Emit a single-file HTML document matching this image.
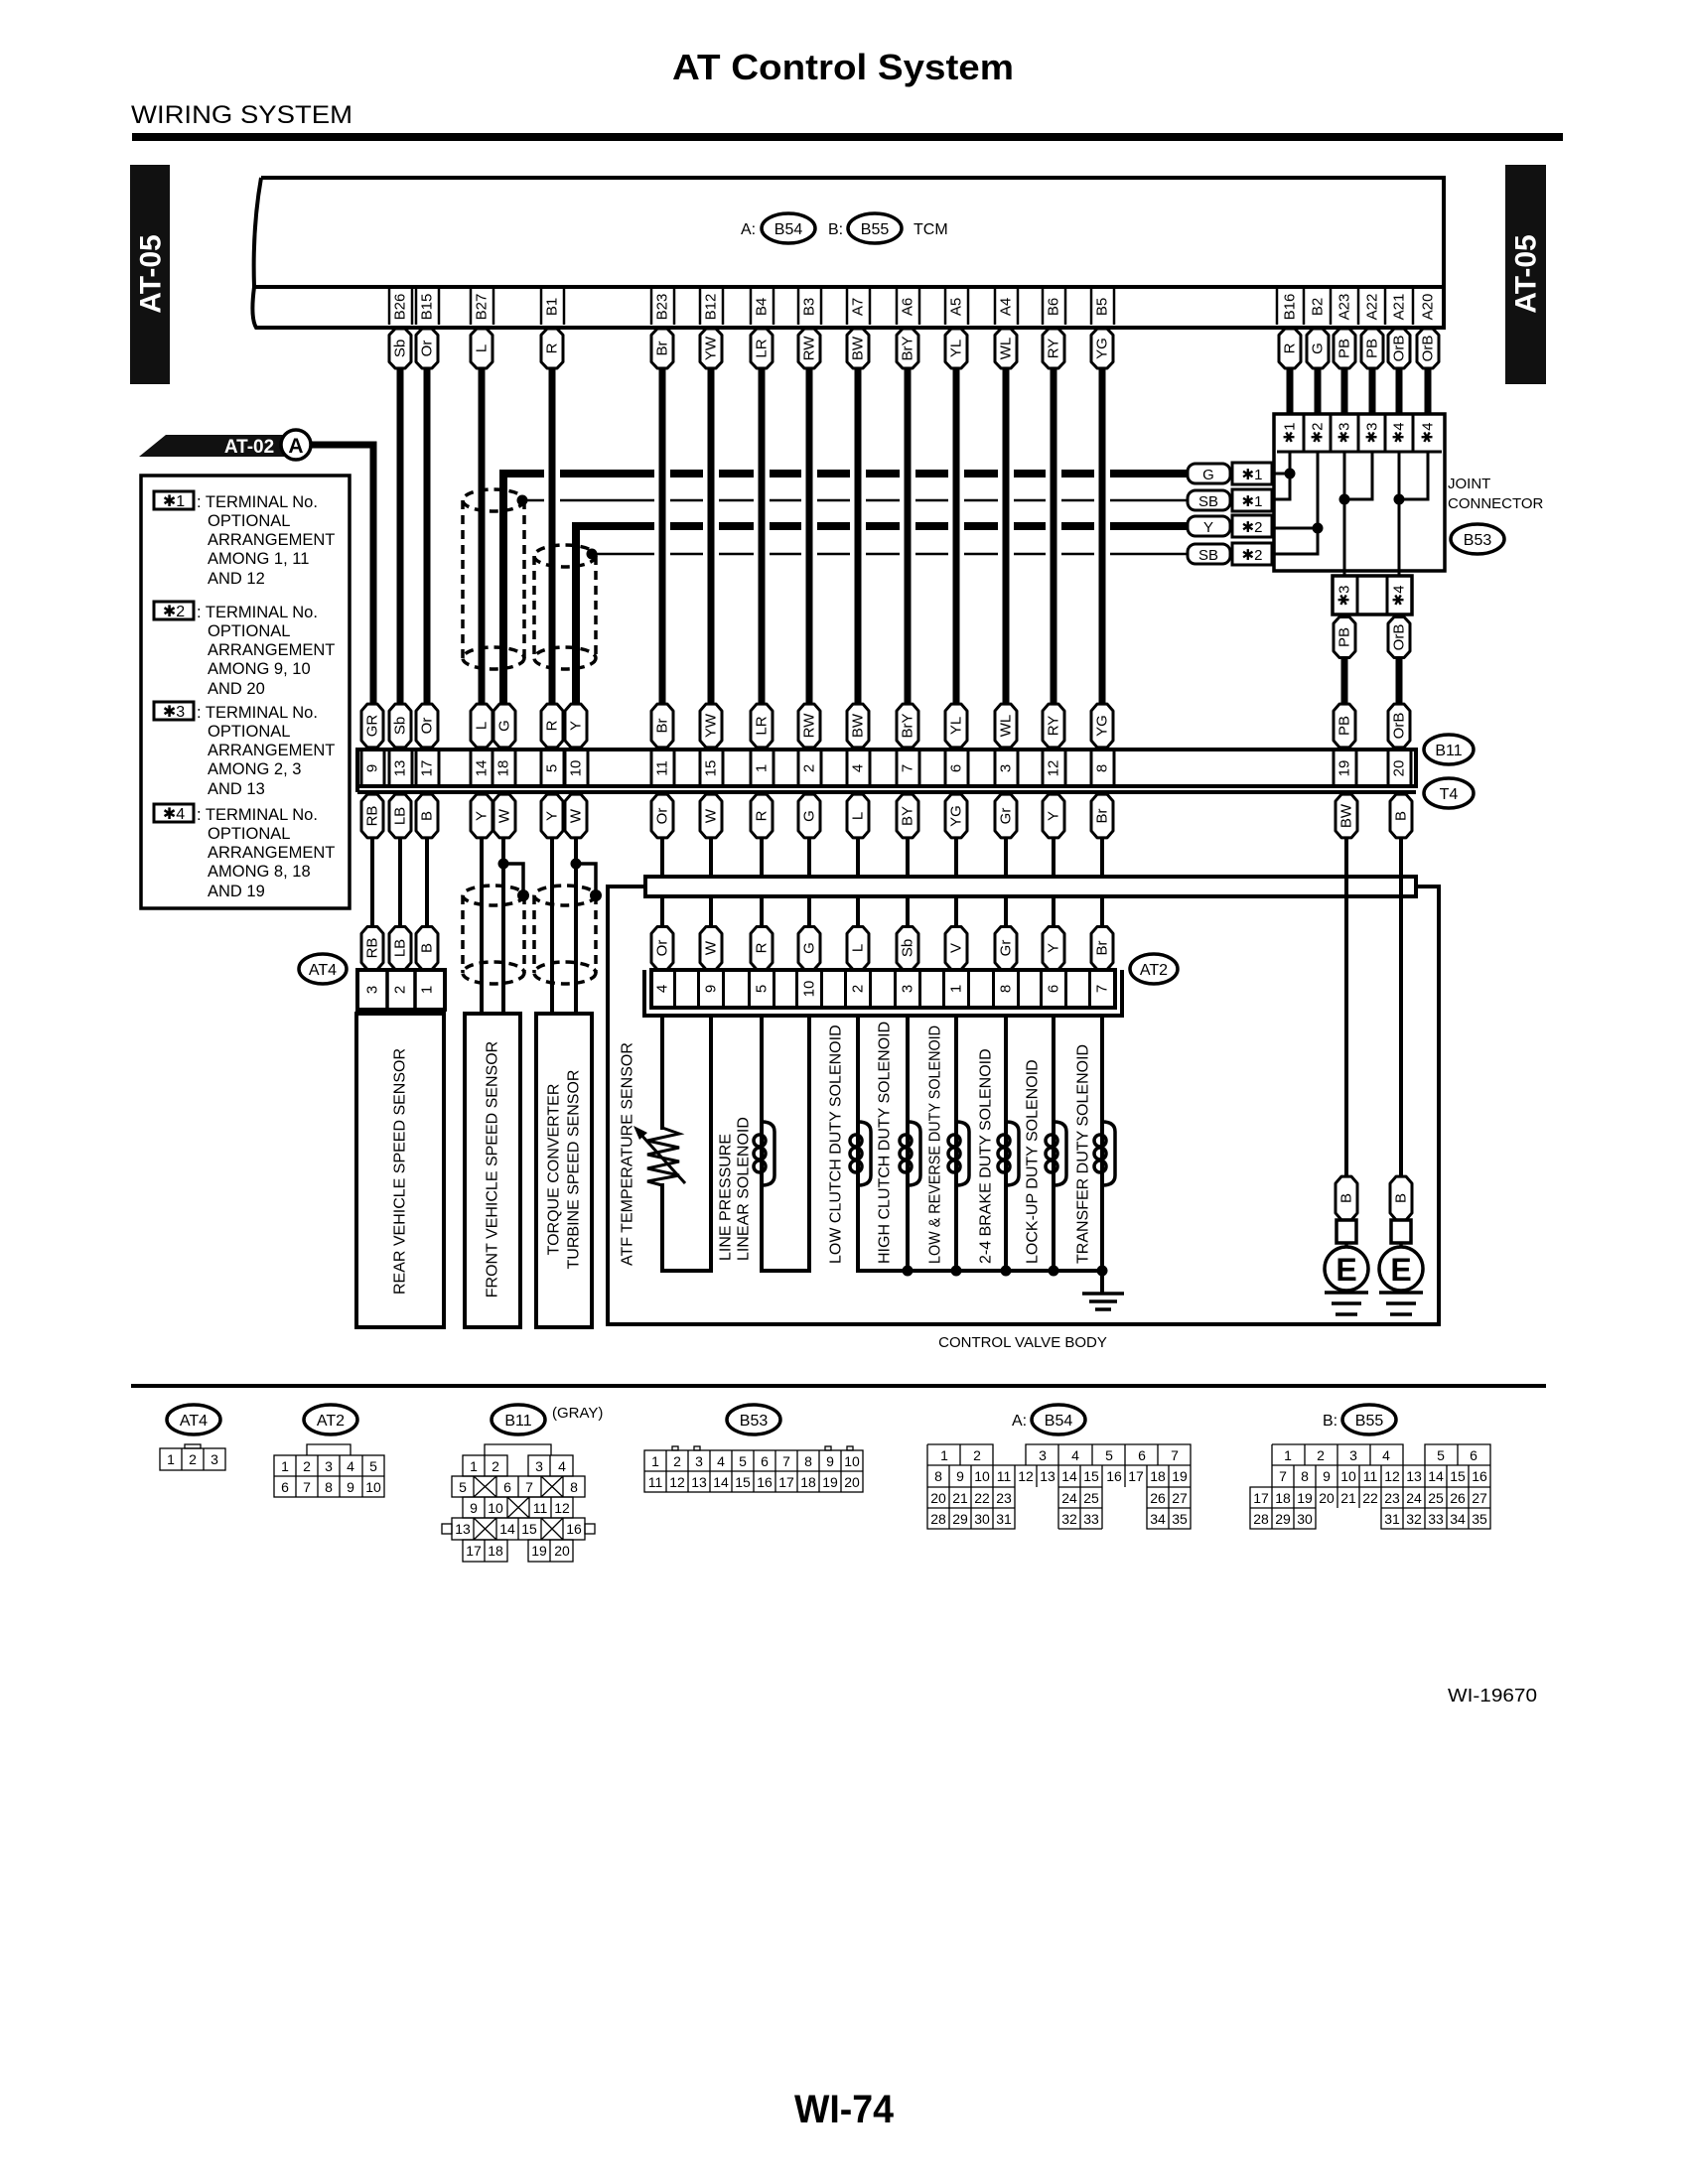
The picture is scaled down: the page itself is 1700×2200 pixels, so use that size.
<!DOCTYPE html>
<html><head><meta charset="utf-8">
<style>
html,body{margin:0;padding:0;background:#fff;}
svg{display:block;}
text{font-family:"Liberation Sans",sans-serif;fill:#000;}
.v{font-size:15px;text-anchor:middle;dominant-baseline:central;}
.n{font-size:14px;text-anchor:middle;dominant-baseline:central;}
.lg{font-size:16.5px;}
.s{fill:none;stroke:#000;}
</style></head>
<body>
<svg width="1700" height="2200" viewBox="0 0 1700 2200" xmlns="http://www.w3.org/2000/svg">
<defs>
<path id="pl" d="M-11,-13 L-5,-19 H5 L11,-13 V13 L5,19 H-5 L-11,13Z" fill="#fff" stroke="#000" stroke-width="3" stroke-linejoin="round" vector-effect="non-scaling-stroke"/>
</defs>
<rect width="1700" height="2200" fill="#fff"/>

<!-- Header -->
<text x="849" y="80" font-size="36" font-weight="bold" text-anchor="middle" textLength="344" lengthAdjust="spacingAndGlyphs">AT Control System</text>
<text x="132" y="124" font-size="25" textLength="223" lengthAdjust="spacingAndGlyphs">WIRING SYSTEM</text>
<rect x="133" y="134" width="1441" height="8" fill="#000"/>

<!-- AT-05 bars -->
<rect x="131" y="166" width="40" height="221" fill="#111"/>
<text transform="translate(152,276) rotate(-90)" font-size="30" font-weight="bold" style="fill:#fff" text-anchor="middle" dominant-baseline="central">AT-05</text>
<rect x="1516" y="166" width="41" height="221" fill="#111"/>
<text transform="translate(1537,276) rotate(-90)" font-size="30" font-weight="bold" style="fill:#fff" text-anchor="middle" dominant-baseline="central">AT-05</text>

<!-- TCM box -->
<path class="s" stroke-width="4" d="M263 179 H1454 V330 H258 Q252 320 256 289 H1454 M263 179 Q254 230 256 289"/>
<text x="746" y="236" font-size="16">A:</text>
<ellipse cx="794" cy="230" rx="27" ry="15" class="s" stroke-width="3.5"/>
<text x="794" y="236" font-size="16" text-anchor="middle">B54</text>
<text x="834" y="236" font-size="16">B:</text>
<ellipse cx="881" cy="230" rx="27" ry="15" class="s" stroke-width="3.5"/>
<text x="881" y="236" font-size="16" text-anchor="middle">B55</text>
<text x="920" y="236" font-size="16">TCM</text>

<!-- Terminal cell borders -->
<path class="s" stroke-width="2.5" d="M392 290V327M415 290V327M419 290V327M442 290V327M474 290V327M497 290V327M545 290V327M568 290V327M656 290V327M679 290V327M705 290V327M728 290V327M756 290V327M779 290V327M804 290V327M827 290V327M853 290V327M876 290V327M903 290V327M926 290V327M952 290V327M975 290V327M1002 290V327M1025 290V327M1050 290V327M1073 290V327M1099 290V327M1122 290V327M1286 290V327M1313 290V327M1340 290V327M1368 290V327M1395 290V327M1423 290V327"/>

<!-- Terminal labels -->
<g class="v">
<text transform="translate(403,309) rotate(-90)" class="v">B26</text>
<text transform="translate(430,309) rotate(-90)" class="v">B15</text>
<text transform="translate(485,309) rotate(-90)" class="v">B27</text>
<text transform="translate(556,309) rotate(-90)" class="v">B1</text>
<text transform="translate(667,309) rotate(-90)" class="v">B23</text>
<text transform="translate(716,309) rotate(-90)" class="v">B12</text>
<text transform="translate(767,309) rotate(-90)" class="v">B4</text>
<text transform="translate(815,309) rotate(-90)" class="v">B3</text>
<text transform="translate(864,309) rotate(-90)" class="v">A7</text>
<text transform="translate(914,309) rotate(-90)" class="v">A6</text>
<text transform="translate(963,309) rotate(-90)" class="v">A5</text>
<text transform="translate(1013,309) rotate(-90)" class="v">A4</text>
<text transform="translate(1061,309) rotate(-90)" class="v">B6</text>
<text transform="translate(1110,309) rotate(-90)" class="v">B5</text>
<text transform="translate(1299,309) rotate(-90)" class="v">B16</text>
<text transform="translate(1327,309) rotate(-90)" class="v">B2</text>
<text transform="translate(1354,309) rotate(-90)" class="v">A23</text>
<text transform="translate(1382,309) rotate(-90)" class="v">A22</text>
<text transform="translate(1409,309) rotate(-90)" class="v">A21</text>
<text transform="translate(1438,309) rotate(-90)" class="v">A20</text>
</g>

<!-- Shielded horizontal lines -->
<path class="s" stroke-width="8" d="M1196 477 H507 V711"/>
<path class="s" stroke-width="8" d="M1196 530 H580 V711"/>
<path class="s" stroke-width="2.5" d="M1196 504 H526 M1196 558 H596"/>
<circle cx="526" cy="504" r="5.5"/>
<circle cx="596" cy="558" r="5.5"/>
<path stroke="#fff" stroke-width="16" d="M556 468V568M667 468V568M716 468V568M767 468V568M815 468V568M864 468V568M914 468V568M963 468V568M1013 468V568M1061 468V568M1110 468V568"/>

<!-- Upper vertical wires -->
<path class="s" stroke-width="7" d="M403 370V711M430 370V711M485 370V711M556 370V711M667 370V711M716 370V711M767 370V711M815 370V711M864 370V711M914 370V711M963 370V711M1013 370V711M1061 370V711M1110 370V711M1299 370V417M1327 370V417M1354 370V417M1382 370V417M1409 370V417M1438 370V417M1354 663V711M1409 663V711"/>
<path class="s" stroke-width="7" d="M312 448 H376 V711"/>

<g class="s" stroke-width="3.5" stroke-dasharray="9,6">
<ellipse cx="497" cy="504" rx="31" ry="11"/>
<ellipse cx="497" cy="663" rx="31" ry="11"/>
<path d="M466 504V663M528 504V663"/>
<ellipse cx="569" cy="560" rx="31" ry="11"/>
<ellipse cx="569" cy="663" rx="31" ry="11"/>
<path d="M538 560V663M600 560V663"/>
</g>

<!-- AT-02 -->
<polygon points="140,460 167,438 292,438 292,460" fill="#111"/>
<text x="251" y="456" font-size="19" font-weight="bold" text-anchor="middle" style="fill:#fff">AT-02</text>
<circle cx="298" cy="448" r="15" fill="#fff" stroke="#000" stroke-width="3.5"/>
<text x="298" y="456" font-size="21" font-weight="bold" text-anchor="middle">A</text>

<!-- Legend -->
<rect x="142" y="479" width="210" height="436" class="s" stroke-width="3.5"/>
<g class="lg">
<rect x="155" y="495" width="40" height="18" class="s" stroke-width="3"/>
<text x="175" y="510" font-size="16" text-anchor="middle">✱1</text>
<text x="198" y="511" class="lg">: TERMINAL No.</text>
<text x="209" y="530" class="lg">OPTIONAL</text>
<text x="209" y="549" class="lg">ARRANGEMENT</text>
<text x="209" y="568" class="lg">AMONG 1, 11</text>
<text x="209" y="588" class="lg">AND 12</text>
<rect x="155" y="606" width="40" height="18" class="s" stroke-width="3"/>
<text x="175" y="621" font-size="16" text-anchor="middle">✱2</text>
<text x="198" y="622" class="lg">: TERMINAL No.</text>
<text x="209" y="641" class="lg">OPTIONAL</text>
<text x="209" y="660" class="lg">ARRANGEMENT</text>
<text x="209" y="679" class="lg">AMONG 9, 10</text>
<text x="209" y="699" class="lg">AND 20</text>
<rect x="155" y="707" width="40" height="18" class="s" stroke-width="3"/>
<text x="175" y="722" font-size="16" text-anchor="middle">✱3</text>
<text x="198" y="723" class="lg">: TERMINAL No.</text>
<text x="209" y="742" class="lg">OPTIONAL</text>
<text x="209" y="761" class="lg">ARRANGEMENT</text>
<text x="209" y="780" class="lg">AMONG 2, 3</text>
<text x="209" y="800" class="lg">AND 13</text>
<rect x="155" y="810" width="40" height="18" class="s" stroke-width="3"/>
<text x="175" y="825" font-size="16" text-anchor="middle">✱4</text>
<text x="198" y="826" class="lg">: TERMINAL No.</text>
<text x="209" y="845" class="lg">OPTIONAL</text>
<text x="209" y="864" class="lg">ARRANGEMENT</text>
<text x="209" y="883" class="lg">AMONG 8, 18</text>
<text x="209" y="903" class="lg">AND 19</text>
</g>

<!-- Joint connector -->
<rect x="1283" y="417" width="172" height="158" class="s" stroke-width="3.5"/>
<path class="s" stroke-width="3" d="M1286 455H1452M1313 417V455M1340 417V455M1368 417V455M1395 417V455M1423 417V455"/>
<g>
<text transform="translate(1299,436) rotate(-90)" class="v">✱1</text>
<text transform="translate(1327,436) rotate(-90)" class="v">✱2</text>
<text transform="translate(1354,436) rotate(-90)" class="v">✱3</text>
<text transform="translate(1382,436) rotate(-90)" class="v">✱3</text>
<text transform="translate(1409,436) rotate(-90)" class="v">✱4</text>
<text transform="translate(1438,436) rotate(-90)" class="v">✱4</text>
</g>
<path class="s" stroke-width="3" d="M1299 455V503H1283M1283 477H1299M1327 455V558H1283M1283 532H1327M1354 455V580M1382 455V503H1354M1409 455V580M1438 455V503H1409"/>
<circle cx="1299" cy="477" r="5.5"/><circle cx="1327" cy="532" r="5.5"/><circle cx="1354" cy="503" r="5.5"/><circle cx="1409" cy="503" r="5.5"/>
<g stroke="#000" stroke-width="3" fill="#fff">
<rect x="1196" y="467" width="43" height="20" rx="8"/>
<rect x="1196" y="494" width="43" height="20" rx="8"/>
<rect x="1196" y="520" width="43" height="20" rx="8"/>
<rect x="1196" y="548" width="43" height="20" rx="8"/>
<rect x="1241" y="466" width="40" height="22"/>
<rect x="1241" y="493" width="40" height="22"/>
<rect x="1241" y="519" width="40" height="22"/>
<rect x="1241" y="547" width="40" height="22"/>
</g>
<g font-size="15" text-anchor="middle">
<text x="1217" y="483">G</text><text x="1217" y="510">SB</text><text x="1217" y="536">Y</text><text x="1217" y="564">SB</text>
<text x="1261" y="483">✱1</text><text x="1261" y="510">✱1</text><text x="1261" y="536">✱2</text><text x="1261" y="564">✱2</text>
</g>
<text x="1458" y="492" font-size="15">JOINT</text>
<text x="1458" y="512" font-size="15">CONNECTOR</text>
<ellipse cx="1488" cy="543" rx="27" ry="15" class="s" stroke-width="3.5"/>
<text x="1488" y="549" font-size="16" text-anchor="middle">B53</text>
<rect x="1342" y="580" width="80" height="39" class="s" stroke-width="3.5"/>
<path class="s" stroke-width="3" d="M1367 580V619M1397 580V619M1354 619V624M1409 619V624"/>
<text transform="translate(1354,600) rotate(-90)" class="v">✱3</text>
<text transform="translate(1409,600) rotate(-90)" class="v">✱4</text>

<!-- TCM pills -->
<g>
<use href="#pl" transform="translate(403,351) scale(1,1.05)"/><use href="#pl" transform="translate(430,351) scale(1,1.05)"/><use href="#pl" transform="translate(485,351) scale(1,1.05)"/><use href="#pl" transform="translate(556,351) scale(1,1.05)"/><use href="#pl" transform="translate(667,351) scale(1,1.05)"/><use href="#pl" transform="translate(716,351) scale(1,1.05)"/><use href="#pl" transform="translate(767,351) scale(1,1.05)"/><use href="#pl" transform="translate(815,351) scale(1,1.05)"/><use href="#pl" transform="translate(864,351) scale(1,1.05)"/><use href="#pl" transform="translate(914,351) scale(1,1.05)"/><use href="#pl" transform="translate(963,351) scale(1,1.05)"/><use href="#pl" transform="translate(1013,351) scale(1,1.05)"/><use href="#pl" transform="translate(1061,351) scale(1,1.05)"/><use href="#pl" transform="translate(1110,351) scale(1,1.05)"/><use href="#pl" transform="translate(1299,351) scale(1,1.05)"/><use href="#pl" transform="translate(1327,351) scale(1,1.05)"/><use href="#pl" transform="translate(1354,351) scale(1,1.05)"/><use href="#pl" transform="translate(1382,351) scale(1,1.05)"/><use href="#pl" transform="translate(1409,351) scale(1,1.05)"/><use href="#pl" transform="translate(1438,351) scale(1,1.05)"/>
<use href="#pl" transform="translate(1354,642) scale(1,1.08)"/><use href="#pl" transform="translate(1409,642) scale(1,1.08)"/>
</g>
<g>
<text transform="translate(403,351) rotate(-90)" class="v">Sb</text>
<text transform="translate(430,351) rotate(-90)" class="v">Or</text>
<text transform="translate(485,351) rotate(-90)" class="v">L</text>
<text transform="translate(556,351) rotate(-90)" class="v">R</text>
<text transform="translate(667,351) rotate(-90)" class="v">Br</text>
<text transform="translate(716,351) rotate(-90)" class="v">YW</text>
<text transform="translate(767,351) rotate(-90)" class="v">LR</text>
<text transform="translate(815,351) rotate(-90)" class="v">RW</text>
<text transform="translate(864,351) rotate(-90)" class="v">BW</text>
<text transform="translate(914,351) rotate(-90)" class="v">BrY</text>
<text transform="translate(963,351) rotate(-90)" class="v">YL</text>
<text transform="translate(1013,351) rotate(-90)" class="v">WL</text>
<text transform="translate(1061,351) rotate(-90)" class="v">RY</text>
<text transform="translate(1110,351) rotate(-90)" class="v">YG</text>
<text transform="translate(1299,351) rotate(-90)" class="v">R</text>
<text transform="translate(1327,351) rotate(-90)" class="v">G</text>
<text transform="translate(1354,351) rotate(-90)" class="v">PB</text>
<text transform="translate(1382,351) rotate(-90)" class="v">PB</text>
<text transform="translate(1409,351) rotate(-90)" class="v">OrB</text>
<text transform="translate(1438,351) rotate(-90)" class="v">OrB</text>
<text transform="translate(1354,642) rotate(-90)" class="v">PB</text>
<text transform="translate(1409,642) rotate(-90)" class="v">OrB</text>
</g>

<!-- Lower wires -->
<path class="s" stroke-width="4" d="M375 842V934M403 842V934M430 842V934M485 842V1021M507 842V1021M556 842V1021M580 842V1021M667 842V883M716 842V883M767 842V883M815 842V883M864 842V883M914 842V883M963 842V883M1013 842V883M1061 842V883M1110 842V883M667 903V934M716 903V934M767 903V934M815 903V934M864 903V934M914 903V934M963 903V934M1013 903V934M1061 903V934M1110 903V934"/>
<path class="s" stroke-width="3.5" d="M507 870H527V902M580 870H600V902"/>
<circle cx="507" cy="870" r="5.5"/><circle cx="527" cy="902" r="6"/><circle cx="580" cy="870" r="5.5"/><circle cx="600" cy="902" r="6"/>
<g class="s" stroke-width="3.5" stroke-dasharray="9,6">
<ellipse cx="497" cy="902" rx="31" ry="10"/>
<ellipse cx="497" cy="980" rx="31" ry="11"/>
<path d="M466 902V980M528 902V980"/>
<ellipse cx="569" cy="902" rx="31" ry="10"/>
<ellipse cx="569" cy="980" rx="31" ry="11"/>
<path d="M538 902V980M600 902V980"/>
</g>

<path class="s" stroke-width="4" d="M650 893H612V1334H1449V893H1426"/>
<rect x="650" y="883" width="776" height="20" fill="#fff" stroke="#000" stroke-width="4"/>
<path class="s" stroke-width="4" d="M1356 842V1185M1411 842V1185"/>

<!-- B11 connector -->
<path class="s" stroke-width="4" d="M360 755H1426V792H360Z M360 798H1426 M360 755V798"/>
<path class="s" stroke-width="3" d="M364 756V792M387 756V792M392 756V792M415 756V792M419 756V792M442 756V792M474 756V792M496 756V792M519 756V792M545 756V792M568 756V792M569 756V792M592 756V792M656 756V792M679 756V792M705 756V792M728 756V792M756 756V792M779 756V792M804 756V792M827 756V792M853 756V792M876 756V792M903 756V792M926 756V792M952 756V792M975 756V792M1002 756V792M1025 756V792M1050 756V792M1073 756V792M1099 756V792M1122 756V792M1343 756V792M1366 756V792M1398 756V792M1421 756V792"/>
<g>
<text transform="translate(375,774) rotate(-90)" class="v">9</text>
<text transform="translate(403,774) rotate(-90)" class="v">13</text>
<text transform="translate(430,774) rotate(-90)" class="v">17</text>
<text transform="translate(485,774) rotate(-90)" class="v">14</text>
<text transform="translate(507,774) rotate(-90)" class="v">18</text>
<text transform="translate(556,774) rotate(-90)" class="v">5</text>
<text transform="translate(580,774) rotate(-90)" class="v">10</text>
<text transform="translate(667,774) rotate(-90)" class="v">11</text>
<text transform="translate(716,774) rotate(-90)" class="v">15</text>
<text transform="translate(767,774) rotate(-90)" class="v">1</text>
<text transform="translate(815,774) rotate(-90)" class="v">2</text>
<text transform="translate(864,774) rotate(-90)" class="v">4</text>
<text transform="translate(914,774) rotate(-90)" class="v">7</text>
<text transform="translate(963,774) rotate(-90)" class="v">6</text>
<text transform="translate(1013,774) rotate(-90)" class="v">3</text>
<text transform="translate(1061,774) rotate(-90)" class="v">12</text>
<text transform="translate(1110,774) rotate(-90)" class="v">8</text>
<text transform="translate(1354,774) rotate(-90)" class="v">19</text>
<text transform="translate(1409,774) rotate(-90)" class="v">20</text>
</g>
<ellipse cx="1459" cy="755" rx="25" ry="15" fill="#fff" stroke="#000" stroke-width="3.5"/>
<text x="1459" y="761" font-size="16" text-anchor="middle">B11</text>
<ellipse cx="1459" cy="799" rx="25" ry="15" fill="#fff" stroke="#000" stroke-width="3.5"/>
<text x="1459" y="805" font-size="16" text-anchor="middle">T4</text>

<g>
<use href="#pl" transform="translate(375,731) scale(1,1.15)"/><use href="#pl" transform="translate(403,731) scale(1,1.15)"/><use href="#pl" transform="translate(430,731) scale(1,1.15)"/><use href="#pl" transform="translate(485,731) scale(1,1.15)"/><use href="#pl" transform="translate(508,731) scale(1,1.15)"/><use href="#pl" transform="translate(556,731) scale(1,1.15)"/><use href="#pl" transform="translate(580,731) scale(1,1.15)"/><use href="#pl" transform="translate(667,731) scale(1,1.15)"/><use href="#pl" transform="translate(716,731) scale(1,1.15)"/><use href="#pl" transform="translate(767,731) scale(1,1.15)"/><use href="#pl" transform="translate(815,731) scale(1,1.15)"/><use href="#pl" transform="translate(864,731) scale(1,1.15)"/><use href="#pl" transform="translate(914,731) scale(1,1.15)"/><use href="#pl" transform="translate(963,731) scale(1,1.15)"/><use href="#pl" transform="translate(1013,731) scale(1,1.15)"/><use href="#pl" transform="translate(1061,731) scale(1,1.15)"/><use href="#pl" transform="translate(1110,731) scale(1,1.15)"/><use href="#pl" transform="translate(1354,731) scale(1,1.15)"/><use href="#pl" transform="translate(1409,731) scale(1,1.15)"/>
</g>
<g>
<text transform="translate(375,731) rotate(-90)" class="v">GR</text>
<text transform="translate(403,731) rotate(-90)" class="v">Sb</text>
<text transform="translate(430,731) rotate(-90)" class="v">Or</text>
<text transform="translate(485,731) rotate(-90)" class="v">L</text>
<text transform="translate(508,731) rotate(-90)" class="v">G</text>
<text transform="translate(556,731) rotate(-90)" class="v">R</text>
<text transform="translate(580,731) rotate(-90)" class="v">Y</text>
<text transform="translate(667,731) rotate(-90)" class="v">Br</text>
<text transform="translate(716,731) rotate(-90)" class="v">YW</text>
<text transform="translate(767,731) rotate(-90)" class="v">LR</text>
<text transform="translate(815,731) rotate(-90)" class="v">RW</text>
<text transform="translate(864,731) rotate(-90)" class="v">BW</text>
<text transform="translate(914,731) rotate(-90)" class="v">BrY</text>
<text transform="translate(963,731) rotate(-90)" class="v">YL</text>
<text transform="translate(1013,731) rotate(-90)" class="v">WL</text>
<text transform="translate(1061,731) rotate(-90)" class="v">RY</text>
<text transform="translate(1110,731) rotate(-90)" class="v">YG</text>
<text transform="translate(1354,731) rotate(-90)" class="v">PB</text>
<text transform="translate(1409,731) rotate(-90)" class="v">OrB</text>
</g>
<g>
<use href="#pl" transform="translate(375,822) scale(1,1.15)"/><use href="#pl" transform="translate(403,822) scale(1,1.15)"/><use href="#pl" transform="translate(430,822) scale(1,1.15)"/><use href="#pl" transform="translate(485,822) scale(1,1.15)"/><use href="#pl" transform="translate(508,822) scale(1,1.15)"/><use href="#pl" transform="translate(556,822) scale(1,1.15)"/><use href="#pl" transform="translate(580,822) scale(1,1.15)"/><use href="#pl" transform="translate(667,822) scale(1,1.15)"/><use href="#pl" transform="translate(716,822) scale(1,1.15)"/><use href="#pl" transform="translate(767,822) scale(1,1.15)"/><use href="#pl" transform="translate(815,822) scale(1,1.15)"/><use href="#pl" transform="translate(864,822) scale(1,1.15)"/><use href="#pl" transform="translate(914,822) scale(1,1.15)"/><use href="#pl" transform="translate(963,822) scale(1,1.15)"/><use href="#pl" transform="translate(1013,822) scale(1,1.15)"/><use href="#pl" transform="translate(1061,822) scale(1,1.15)"/><use href="#pl" transform="translate(1110,822) scale(1,1.15)"/><use href="#pl" transform="translate(1356,822) scale(1,1.15)"/><use href="#pl" transform="translate(1411,822) scale(1,1.15)"/>
</g>
<g>
<text transform="translate(375,822) rotate(-90)" class="v">RB</text>
<text transform="translate(403,822) rotate(-90)" class="v">LB</text>
<text transform="translate(430,822) rotate(-90)" class="v">B</text>
<text transform="translate(485,822) rotate(-90)" class="v">Y</text>
<text transform="translate(508,822) rotate(-90)" class="v">W</text>
<text transform="translate(556,822) rotate(-90)" class="v">Y</text>
<text transform="translate(580,822) rotate(-90)" class="v">W</text>
<text transform="translate(667,822) rotate(-90)" class="v">Or</text>
<text transform="translate(716,822) rotate(-90)" class="v">W</text>
<text transform="translate(767,822) rotate(-90)" class="v">R</text>
<text transform="translate(815,822) rotate(-90)" class="v">G</text>
<text transform="translate(864,822) rotate(-90)" class="v">L</text>
<text transform="translate(914,822) rotate(-90)" class="v">BY</text>
<text transform="translate(963,822) rotate(-90)" class="v">YG</text>
<text transform="translate(1013,822) rotate(-90)" class="v">Gr</text>
<text transform="translate(1061,822) rotate(-90)" class="v">Y</text>
<text transform="translate(1110,822) rotate(-90)" class="v">Br</text>
<text transform="translate(1356,822) rotate(-90)" class="v">BW</text>
<text transform="translate(1411,822) rotate(-90)" class="v">B</text>
</g>

<!-- AT4 connector & sensors -->
<rect x="360" y="977" width="88" height="40" class="s" stroke-width="4"/>
<path class="s" stroke-width="3.5" d="M390 977V1017M418 977V1017"/>
<text transform="translate(375,997) rotate(-90)" class="v">3</text>
<text transform="translate(403,997) rotate(-90)" class="v">2</text>
<text transform="translate(430,997) rotate(-90)" class="v">1</text>
<use href="#pl" transform="translate(375,955) scale(1,1.13)"/><use href="#pl" transform="translate(403,955) scale(1,1.13)"/><use href="#pl" transform="translate(430,955) scale(1,1.13)"/>
<text transform="translate(375,955) rotate(-90)" class="v">RB</text>
<text transform="translate(403,955) rotate(-90)" class="v">LB</text>
<text transform="translate(430,955) rotate(-90)" class="v">B</text>
<ellipse cx="325" cy="976" rx="24" ry="15" class="s" stroke-width="3.5"/>
<text x="325" y="982" font-size="16" text-anchor="middle">AT4</text>
<g class="s" stroke-width="4">
<rect x="359" y="1021" width="88" height="316"/>
<rect x="468" y="1021" width="56" height="316"/>
<rect x="540" y="1021" width="56" height="316"/>
</g>
<g font-size="16" text-anchor="middle" dominant-baseline="central">
<text transform="translate(403,1180) rotate(-90)">REAR VEHICLE SPEED SENSOR</text>
<text transform="translate(496,1178) rotate(-90)">FRONT VEHICLE SPEED SENSOR</text>
<text transform="translate(558,1178) rotate(-90)">TORQUE CONVERTER</text>
<text transform="translate(578,1178) rotate(-90)">TURBINE SPEED SENSOR</text>
</g>

<!-- AT2 connector -->
<path class="s" stroke-width="4" d="M649 977V1023H1130V977"/>
<rect x="656" y="977" width="467" height="38" class="s" stroke-width="4"/>
<path class="s" stroke-width="3" d="M679.5 977V1015M703.5 977V1015M728.5 977V1015M754.5 977V1015M779.5 977V1015M802.5 977V1015M827.5 977V1015M851.5 977V1015M876.5 977V1015M901.5 977V1015M926.5 977V1015M950.5 977V1015M975.5 977V1015M1000.5 977V1015M1025.5 977V1015M1048.5 977V1015M1073.5 977V1015M1097.5 977V1015"/>
<g>
<text transform="translate(667,996) rotate(-90)" class="v">4</text>
<text transform="translate(716,996) rotate(-90)" class="v">9</text>
<text transform="translate(767,996) rotate(-90)" class="v">5</text>
<text transform="translate(815,996) rotate(-90)" class="v">10</text>
<text transform="translate(864,996) rotate(-90)" class="v">2</text>
<text transform="translate(914,996) rotate(-90)" class="v">3</text>
<text transform="translate(963,996) rotate(-90)" class="v">1</text>
<text transform="translate(1013,996) rotate(-90)" class="v">8</text>
<text transform="translate(1061,996) rotate(-90)" class="v">6</text>
<text transform="translate(1110,996) rotate(-90)" class="v">7</text>
</g>
<g>
<use href="#pl" transform="translate(667,955) scale(1,1.13)"/><use href="#pl" transform="translate(716,955) scale(1,1.13)"/><use href="#pl" transform="translate(767,955) scale(1,1.13)"/><use href="#pl" transform="translate(815,955) scale(1,1.13)"/><use href="#pl" transform="translate(864,955) scale(1,1.13)"/><use href="#pl" transform="translate(914,955) scale(1,1.13)"/><use href="#pl" transform="translate(963,955) scale(1,1.13)"/><use href="#pl" transform="translate(1013,955) scale(1,1.13)"/><use href="#pl" transform="translate(1061,955) scale(1,1.13)"/><use href="#pl" transform="translate(1110,955) scale(1,1.13)"/>
</g>
<g>
<text transform="translate(667,955) rotate(-90)" class="v">Or</text>
<text transform="translate(716,955) rotate(-90)" class="v">W</text>
<text transform="translate(767,955) rotate(-90)" class="v">R</text>
<text transform="translate(815,955) rotate(-90)" class="v">G</text>
<text transform="translate(864,955) rotate(-90)" class="v">L</text>
<text transform="translate(914,955) rotate(-90)" class="v">Sb</text>
<text transform="translate(963,955) rotate(-90)" class="v">V</text>
<text transform="translate(1013,955) rotate(-90)" class="v">Gr</text>
<text transform="translate(1061,955) rotate(-90)" class="v">Y</text>
<text transform="translate(1110,955) rotate(-90)" class="v">Br</text>
</g>
<ellipse cx="1162" cy="976" rx="24" ry="15" class="s" stroke-width="3.5"/>
<text x="1162" y="982" font-size="16" text-anchor="middle">AT2</text>

<!-- Control valve internals -->
<path class="s" stroke-width="4" d="M667 1023V1280H716V1023M767 1023V1280H815V1023M864 1023V1280H1110M914 1023V1280M963 1023V1280M1013 1023V1280M1061 1023V1280M1110 1023V1303"/>
<circle cx="914" cy="1280" r="5.5"/><circle cx="963" cy="1280" r="5.5"/><circle cx="1013" cy="1280" r="5.5"/><circle cx="1061" cy="1280" r="5.5"/><circle cx="1110" cy="1280" r="5.5"/>
<path class="s" stroke-width="3.5" d="M1090 1303H1132M1097 1311H1125M1103 1319H1119"/>
<rect x="660" y="1138" width="14" height="54" fill="#fff"/>
<polyline class="s" stroke-width="3" points="667,1136 684,1142 652,1149 684,1156 652,1163 684,1170 652,1177 684,1184 652,1190 667,1194"/>
<path class="s" stroke-width="3" d="M690 1192L643 1140"/>
<polygon points="638,1134 652,1141 644,1148"/>
<g class="s" stroke-width="3.5">
<path d="M767 1130q13 0 13 10v44q0 10 -13 10"/>
<path d="M864 1130q13 0 13 10v44q0 10 -13 10"/>
<path d="M914 1130q13 0 13 10v44q0 10 -13 10"/>
<path d="M963 1130q13 0 13 10v44q0 10 -13 10"/>
<path d="M1013 1130q13 0 13 10v44q0 10 -13 10"/>
<path d="M1061 1130q13 0 13 10v44q0 10 -13 10"/>
<path d="M1110 1130q13 0 13 10v44q0 10 -13 10"/>
<circle cx="765" cy="1149" r="6"/><circle cx="765" cy="1162" r="6"/><circle cx="765" cy="1175" r="6"/>
<circle cx="862" cy="1149" r="6"/><circle cx="862" cy="1162" r="6"/><circle cx="862" cy="1175" r="6"/>
<circle cx="912" cy="1149" r="6"/><circle cx="912" cy="1162" r="6"/><circle cx="912" cy="1175" r="6"/>
<circle cx="961" cy="1149" r="6"/><circle cx="961" cy="1162" r="6"/><circle cx="961" cy="1175" r="6"/>
<circle cx="1011" cy="1149" r="6"/><circle cx="1011" cy="1162" r="6"/><circle cx="1011" cy="1175" r="6"/>
<circle cx="1059" cy="1149" r="6"/><circle cx="1059" cy="1162" r="6"/><circle cx="1059" cy="1175" r="6"/>
<circle cx="1108" cy="1149" r="6"/><circle cx="1108" cy="1162" r="6"/><circle cx="1108" cy="1175" r="6"/>
</g>
<g font-size="16" dominant-baseline="central">
<text transform="translate(632,1275) rotate(-90)">ATF TEMPERATURE SENSOR</text>
<text transform="translate(731,1270) rotate(-90)">LINE PRESSURE</text>
<text transform="translate(749,1270) rotate(-90)">LINEAR SOLENOID</text>
<text transform="translate(842,1273) rotate(-90)">LOW CLUTCH DUTY SOLENOID</text>
<text transform="translate(891,1273) rotate(-90)">HIGH CLUTCH DUTY SOLENOID</text>
<text transform="translate(942,1273) rotate(-90)" textLength="240" lengthAdjust="spacingAndGlyphs">LOW &amp; REVERSE DUTY SOLENOID</text>
<text transform="translate(993,1273) rotate(-90)">2-4 BRAKE DUTY SOLENOID</text>
<text transform="translate(1040,1273) rotate(-90)">LOCK-UP DUTY SOLENOID</text>
<text transform="translate(1091,1273) rotate(-90)">TRANSFER DUTY SOLENOID</text>
</g>
<text x="1030" y="1357" font-size="15" text-anchor="middle">CONTROL VALVE BODY</text>

<!-- Grounds E -->
<use href="#pl" transform="translate(1356,1207) scale(1,1.15)"/><use href="#pl" transform="translate(1411,1207) scale(1,1.15)"/>
<text transform="translate(1356,1207) rotate(-90)" class="v">B</text>
<text transform="translate(1411,1207) rotate(-90)" class="v">B</text>
<g class="s" stroke-width="3.5">
<rect x="1346" y="1229" width="20" height="23" fill="#fff"/>
<rect x="1401" y="1229" width="20" height="23" fill="#fff"/>
<path d="M1356 1252V1256M1411 1252V1256"/>
<circle cx="1356" cy="1278" r="22"/><circle cx="1411" cy="1278" r="22"/>
<path d="M1334 1302H1378M1341 1313H1371M1345 1324H1367M1389 1302H1433M1396 1313H1426M1400 1324H1422"/>
</g>
<text x="1356" y="1290" font-size="32" font-weight="bold" text-anchor="middle">E</text>
<text x="1411" y="1290" font-size="32" font-weight="bold" text-anchor="middle">E</text>

<rect x="132" y="1394" width="1425" height="4" fill="#000"/>

<!-- Connector diagrams -->
<g stroke="#000" stroke-width="3.5" fill="none">
<ellipse cx="195" cy="1430" rx="27" ry="15"/>
<ellipse cx="333" cy="1430" rx="27" ry="15"/>
<ellipse cx="522" cy="1430" rx="27" ry="15"/>
<ellipse cx="759" cy="1430" rx="27" ry="15"/>
<ellipse cx="1066" cy="1430" rx="27" ry="15"/>
<ellipse cx="1379" cy="1430" rx="27" ry="15"/>
</g>
<g font-size="16" text-anchor="middle">
<text x="195" y="1436">AT4</text><text x="333" y="1436">AT2</text><text x="522" y="1436">B11</text><text x="759" y="1436">B53</text><text x="1066" y="1436">B54</text><text x="1379" y="1436">B55</text>
</g>
<text x="556" y="1428" font-size="15">(GRAY)</text>
<text x="1019" y="1436" font-size="16">A:</text>
<text x="1332" y="1436" font-size="16">B:</text>

<g stroke="#000" stroke-width="1.3" fill="none">
<rect x="161" y="1459" width="66" height="22"/><path d="M183 1459V1481M205 1459V1481"/>
<rect x="186" y="1455" width="16" height="4"/>
<rect x="276" y="1466" width="111" height="42"/><path d="M276 1487H387M298 1466V1508M320 1466V1508M342 1466V1508M365 1466V1508M309 1466V1455H353V1466"/>
<path d="M488 1466V1455H555V1466"/>
<rect x="466" y="1466" width="45" height="21"/><path d="M488 1466V1487"/>
<rect x="532" y="1466" width="45" height="21"/><path d="M554 1466V1487"/>
<rect x="455" y="1487" width="134" height="21"/><path d="M477 1487V1508M500 1487V1508M522 1487V1508M545 1487V1508M567 1487V1508M477 1487L500 1508M500 1487L477 1508M545 1487L567 1508M567 1487L545 1508"/>
<rect x="466" y="1508" width="111" height="21"/><path d="M488 1508V1529M511 1508V1529M533 1508V1529M555 1508V1529M511 1508L533 1529M533 1508L511 1529"/>
<rect x="455" y="1529" width="134" height="22"/><path d="M477 1529V1551M500 1529V1551M522 1529V1551M545 1529V1551M567 1529V1551M477 1529L500 1551M500 1529L477 1551M545 1529L567 1551M567 1529L545 1551"/>
<rect x="445" y="1535" width="10" height="10"/><rect x="589" y="1535" width="10" height="10"/>
<rect x="466" y="1551" width="45" height="22"/><path d="M488 1551V1573"/>
<rect x="532" y="1551" width="45" height="22"/><path d="M554 1551V1573"/>
<rect x="649" y="1461" width="220" height="42"/><path d="M649 1482H869M671 1461V1503M693 1461V1503M715 1461V1503M737 1461V1503M759 1461V1503M781 1461V1503M803 1461V1503M825 1461V1503M847 1461V1503"/>
<rect x="677" y="1457" width="6" height="4"/><rect x="699" y="1457" width="6" height="4"/><rect x="831" y="1457" width="6" height="4"/><rect x="853" y="1457" width="6" height="4"/>
<!-- B54 -->
<path d="M934 1455H1000V1476M1033 1476V1455H1199V1540H1155V1498M934 1455V1540H1022V1498M934 1476H1199M934 1498H1022M1066 1498H1110M1155 1498H1199M934 1519H1022M1066 1519H1110M1155 1519H1199M967 1455V1476M1066 1455V1476M1100 1455V1476M1133 1455V1476M1166 1455V1476M956 1476V1540M978 1476V1540M1000 1476V1540M1022 1476V1498M1044 1476V1498M1066 1476V1540M1088 1476V1540M1110 1476V1540M1133 1476V1498M1155 1476V1498M1177 1476V1540M1066 1540H1110"/>
<!-- B55 -->
<path d="M1281 1455H1413V1476M1435 1476V1455H1501V1540H1391V1519M1281 1455V1498H1259V1540H1325V1519M1281 1476H1501M1259 1498H1501M1259 1519H1325M1391 1519H1501M1314 1455V1476M1347 1455V1476M1380 1455V1476M1468 1455V1476M1303 1476V1498M1325 1476V1519M1347 1476V1519M1369 1476V1519M1391 1476V1519M1413 1476V1540M1435 1476V1540M1457 1476V1540M1479 1476V1540M1281 1498V1540M1303 1498V1540"/>
</g>

<g class="n">
<text x="172" y="1470" class="n">1</text><text x="194" y="1470" class="n">2</text><text x="216" y="1470" class="n">3</text>
<text x="287" y="1477" class="n">1</text><text x="309" y="1477" class="n">2</text><text x="331" y="1477" class="n">3</text><text x="353" y="1477" class="n">4</text><text x="376" y="1477" class="n">5</text>
<text x="287" y="1498" class="n">6</text><text x="309" y="1498" class="n">7</text><text x="331" y="1498" class="n">8</text><text x="353" y="1498" class="n">9</text><text x="376" y="1498" class="n">10</text>
<text x="477" y="1477" class="n">1</text><text x="499" y="1477" class="n">2</text><text x="543" y="1477" class="n">3</text><text x="566" y="1477" class="n">4</text>
<text x="466" y="1498" class="n">5</text><text x="511" y="1498" class="n">6</text><text x="533" y="1498" class="n">7</text><text x="578" y="1498" class="n">8</text>
<text x="477" y="1519" class="n">9</text><text x="499" y="1519" class="n">10</text><text x="544" y="1519" class="n">11</text><text x="566" y="1519" class="n">12</text>
<text x="466" y="1540" class="n">13</text><text x="511" y="1540" class="n">14</text><text x="533" y="1540" class="n">15</text><text x="578" y="1540" class="n">16</text>
<text x="477" y="1562" class="n">17</text><text x="499" y="1562" class="n">18</text><text x="543" y="1562" class="n">19</text><text x="566" y="1562" class="n">20</text>
<text x="660" y="1472" class="n">1</text><text x="682" y="1472" class="n">2</text><text x="704" y="1472" class="n">3</text><text x="726" y="1472" class="n">4</text><text x="748" y="1472" class="n">5</text><text x="770" y="1472" class="n">6</text><text x="792" y="1472" class="n">7</text><text x="814" y="1472" class="n">8</text><text x="836" y="1472" class="n">9</text><text x="858" y="1472" class="n">10</text>
<text x="660" y="1493" class="n">11</text><text x="682" y="1493" class="n">12</text><text x="704" y="1493" class="n">13</text><text x="726" y="1493" class="n">14</text><text x="748" y="1493" class="n">15</text><text x="770" y="1493" class="n">16</text><text x="792" y="1493" class="n">17</text><text x="814" y="1493" class="n">18</text><text x="836" y="1493" class="n">19</text><text x="858" y="1493" class="n">20</text>
<text x="951" y="1466" class="n">1</text><text x="984" y="1466" class="n">2</text><text x="1050" y="1466" class="n">3</text><text x="1083" y="1466" class="n">4</text><text x="1117" y="1466" class="n">5</text><text x="1150" y="1466" class="n">6</text><text x="1183" y="1466" class="n">7</text>
<text x="945" y="1487" class="n">8</text><text x="967" y="1487" class="n">9</text><text x="989" y="1487" class="n">10</text><text x="1011" y="1487" class="n">11</text><text x="1033" y="1487" class="n">12</text><text x="1055" y="1487" class="n">13</text><text x="1077" y="1487" class="n">14</text><text x="1099" y="1487" class="n">15</text><text x="1122" y="1487" class="n">16</text><text x="1144" y="1487" class="n">17</text><text x="1166" y="1487" class="n">18</text><text x="1188" y="1487" class="n">19</text>
<text x="945" y="1509" class="n">20</text><text x="967" y="1509" class="n">21</text><text x="989" y="1509" class="n">22</text><text x="1011" y="1509" class="n">23</text><text x="1077" y="1509" class="n">24</text><text x="1099" y="1509" class="n">25</text><text x="1166" y="1509" class="n">26</text><text x="1188" y="1509" class="n">27</text>
<text x="945" y="1530" class="n">28</text><text x="967" y="1530" class="n">29</text><text x="989" y="1530" class="n">30</text><text x="1011" y="1530" class="n">31</text><text x="1077" y="1530" class="n">32</text><text x="1099" y="1530" class="n">33</text><text x="1166" y="1530" class="n">34</text><text x="1188" y="1530" class="n">35</text>
<text x="1297" y="1466" class="n">1</text><text x="1330" y="1466" class="n">2</text><text x="1363" y="1466" class="n">3</text><text x="1396" y="1466" class="n">4</text><text x="1451" y="1466" class="n">5</text><text x="1484" y="1466" class="n">6</text>
<text x="1292" y="1487" class="n">7</text><text x="1314" y="1487" class="n">8</text><text x="1336" y="1487" class="n">9</text><text x="1358" y="1487" class="n">10</text><text x="1380" y="1487" class="n">11</text><text x="1402" y="1487" class="n">12</text><text x="1424" y="1487" class="n">13</text><text x="1446" y="1487" class="n">14</text><text x="1468" y="1487" class="n">15</text><text x="1490" y="1487" class="n">16</text>
<text x="1270" y="1509" class="n">17</text><text x="1292" y="1509" class="n">18</text><text x="1314" y="1509" class="n">19</text><text x="1336" y="1509" class="n">20</text><text x="1358" y="1509" class="n">21</text><text x="1380" y="1509" class="n">22</text><text x="1402" y="1509" class="n">23</text><text x="1424" y="1509" class="n">24</text><text x="1446" y="1509" class="n">25</text><text x="1468" y="1509" class="n">26</text><text x="1490" y="1509" class="n">27</text>
<text x="1270" y="1530" class="n">28</text><text x="1292" y="1530" class="n">29</text><text x="1314" y="1530" class="n">30</text><text x="1402" y="1530" class="n">31</text><text x="1424" y="1530" class="n">32</text><text x="1446" y="1530" class="n">33</text><text x="1468" y="1530" class="n">34</text><text x="1490" y="1530" class="n">35</text>
</g>

<text x="1458" y="1714" font-size="18" textLength="90" lengthAdjust="spacingAndGlyphs">WI-19670</text>
<text x="850" y="2138" font-size="40" font-weight="bold" text-anchor="middle" textLength="100" lengthAdjust="spacingAndGlyphs">WI-74</text>
</svg>
</body></html>
